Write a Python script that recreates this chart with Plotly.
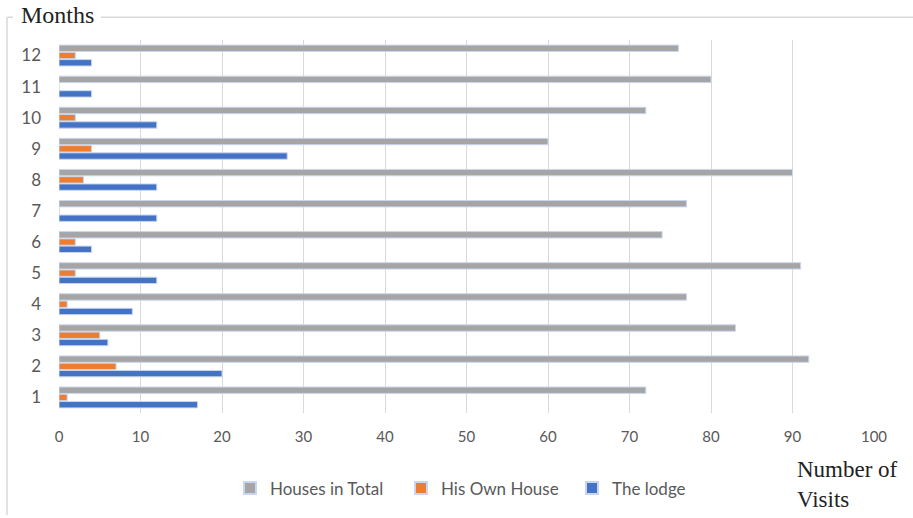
import plotly.graph_objects as go

months = ["1", "2", "3", "4", "5", "6", "7", "8", "9", "10", "11", "12"]
houses_total = [72, 92, 83, 77, 91, 74, 77, 90, 60, 72, 80, 76]
own_house = [1, 7, 5, 1, 2, 2, 0, 3, 4, 2, 0, 2]
the_lodge = [17, 20, 6, 9, 12, 4, 12, 12, 28, 12, 4, 4]
x_ticks = list(range(0, 101, 10))

W, H = 913, 518
L, R, T, B = 59, 874, 40, 417

def px(x):
    return (x - L) / (R - L)

def py(y):
    return 1 - (y - T) / (B - T)

fig = go.Figure()
outline = dict(color="#c9d6ef", width=1)
fig.add_trace(go.Bar(y=months, x=the_lodge, orientation="h", name="The lodge",
                     marker=dict(color="#4472C4", line=outline)))
fig.add_trace(go.Bar(y=months, x=own_house, orientation="h", name="His Own House",
                     marker=dict(color="#ED7D31", line=outline)))
fig.add_trace(go.Bar(y=months, x=houses_total, orientation="h", name="Houses in Total",
                     marker=dict(color="#A5A5A5", line=outline)))

sans = "Lato, Open Sans, sans-serif"
serif = "Liberation Serif, DejaVu Serif, serif"

fig.update_layout(
    width=W, height=H,
    margin=dict(l=L, r=W - R, t=T, b=H - B),
    paper_bgcolor="white", plot_bgcolor="white",
    barmode="group", bargap=0.3, bargroupgap=0.12,
    showlegend=True,
    legend=dict(orientation="h", traceorder="reversed", x=px(230), y=py(475),
                xanchor="left", yanchor="top",
                font=dict(family=sans, size=17, color="#595959"),
                itemwidth=30, itemsizing="constant",
                entrywidth=126, entrywidthmode="pixels"),
    xaxis=dict(range=[0, 100], tickvals=x_ticks, showgrid=True, gridcolor="#d9d9d9",
               gridwidth=1, zeroline=False, showline=False, ticks="",
               tickfont=dict(family=sans, size=15, color="#595959"),
               tickangle=0, ticklabelstandoff=13),
    yaxis=dict(type="category", categoryorder="array", categoryarray=months,
               showgrid=False, zeroline=False, showline=False, ticks="",
               tickfont=dict(family=sans, size=17, color="#595959"),
               ticklabelstandoff=17),
    font=dict(family=sans),
)

# frame (fieldset-like)
line = dict(color="#d9d9d9", width=1.5)
fig.add_shape(type="line", xref="paper", yref="paper", x0=px(7), x1=px(7), y0=py(17), y1=py(520), line=line)
fig.add_shape(type="line", xref="paper", yref="paper", x0=px(7), x1=px(13), y0=py(17), y1=py(17), line=line)
fig.add_shape(type="line", xref="paper", yref="paper", x0=px(101), x1=px(915), y0=py(17), y1=py(17), line=line)

fig.add_annotation(text="Months", xref="paper", yref="paper", x=px(19), y=py(15),
                   xanchor="left", yanchor="middle", showarrow=False,
                   font=dict(family=serif, size=24, color="#222222"))
fig.add_annotation(text="Number of<br>Visits", xref="paper", yref="paper", x=px(795), y=py(459),
                   xanchor="left", yanchor="top", showarrow=False, align="left",
                   font=dict(family=serif, size=23, color="#222222", lineposition="none"))

fig.write_html("out.html")
